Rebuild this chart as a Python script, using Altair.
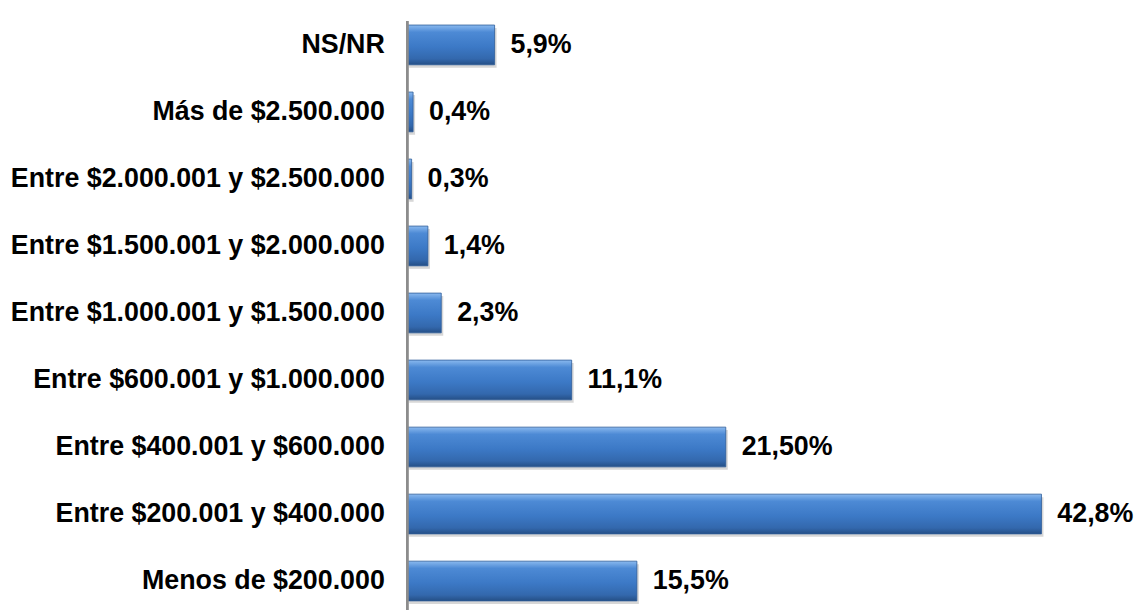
import altair as alt
import pandas as pd

categories = [
    "NS/NR",
    "Más de $2.500.000",
    "Entre $2.000.001 y $2.500.000",
    "Entre $1.500.001 y $2.000.000",
    "Entre $1.000.001 y $1.500.000",
    "Entre $600.001 y $1.000.000",
    "Entre $400.001 y $600.000",
    "Entre $200.001 y $400.000",
    "Menos de $200.000",
]
values = [5.9, 0.4, 0.3, 1.4, 2.3, 11.1, 21.5, 42.8, 15.5]
labels = ["5,9%", "0,4%", "0,3%", "1,4%", "2,3%", "11,1%", "21,50%", "42,8%", "15,5%"]

df = pd.DataFrame({"cat": categories, "val": values, "lab": labels})

FONT = "Liberation Sans"
H = 584

y_enc = alt.Y(
    "cat:N",
    sort=categories,
    scale=alt.Scale(paddingInner=0.407, paddingOuter=0.03),
    axis=alt.Axis(
        title=None,
        ticks=False,
        domain=False,
        labelFont=FONT,
        labelFontSize=27,
        labelFontWeight="bold",
        labelColor="#000000",
        labelPadding=23,
        labelLimit=420,
    ),
)
x_enc = alt.X(
    "val:Q",
    scale=alt.Scale(domain=[0, 46.9], nice=False),
    axis=None,
)

base = alt.Chart(df).encode(y=y_enc, x=x_enc)

axis_line = alt.Chart(df).mark_rule(color="#8c8c8c", strokeWidth=2).encode(
    x=alt.value(0), y=alt.value(-2), y2=alt.value(H + 10)
)

shadow = base.mark_bar(color="#9a9a9a", opacity=0.4, xOffset=2, yOffset=3)

bars = base.mark_bar(
    color=alt.Gradient(
        gradient="linear",
        x1=0, x2=0, y1=0, y2=1,
        stops=[
            alt.GradientStop(offset=0, color="#8ab9ef"),
            alt.GradientStop(offset=0.18, color="#4d8ad5"),
            alt.GradientStop(offset=0.55, color="#3c79c6"),
            alt.GradientStop(offset=0.85, color="#3368ad"),
            alt.GradientStop(offset=1, color="#254f86"),
        ],
    ),
    stroke="#2d5c99",
    strokeWidth=0.8,
)

text = base.mark_text(
    align="left",
    baseline="middle",
    dx=16,
    font=FONT,
    fontSize=27,
    fontWeight="bold",
    color="#000000",
).encode(text="lab:N")

chart = (
    alt.layer(shadow, bars, axis_line, text)
    .properties(
        width=700,
        height=H,
        autosize=alt.AutoSizeParams(type="none"),
        padding={"left": 402, "top": 13, "right": 32, "bottom": 5},
        view=alt.ViewBackground(stroke="transparent", strokeWidth=0, strokeOpacity=0),
    )
    .configure_view(stroke="transparent", strokeWidth=0, strokeOpacity=0)
    .configure(background="#ffffff")
)

chart.save("out.html", embed_options={"renderer": "svg", "actions": False})
